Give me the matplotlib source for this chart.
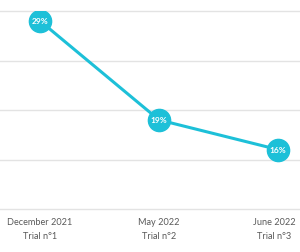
import matplotlib
matplotlib.use("Agg")
import matplotlib.pyplot as plt

categories = ["December 2021\nTrial n°1", "May 2022\nTrial n°2", "June 2022\nTrial n°3"]
values = [29, 19, 16]
labels = ["29%", "19%", "16%"]
grid_levels = [10, 15, 20, 25, 30]

color = "#1DC0D8"
fig = plt.figure(figsize=(3.0, 2.53), dpi=100)
ax = fig.add_axes([0, 1 - 210/253, 1, (210 - 12)/253])
x = list(range(len(values)))
ax.plot(x, values, color=color, lw=2.2, marker="o", ms=16, mfc=color, mec=color, zorder=3, solid_capstyle="round")
for xi, v, t in zip(x, values, labels):
    ax.text(xi, v, t, ha="center", va="center", color="white", fontsize=6, fontweight="bold", family="Lato", zorder=4)
ax.set_ylim(10, 30)
ax.set_xlim(-40/119, 2 + 22/119)
for g in grid_levels:
    ax.axhline(g, color="#e3e3e3", lw=1, zorder=1, clip_on=False)
for s in ax.spines.values():
    s.set_visible(False)
ax.set_yticks([])
ax.set_xticks(x)
ax.set_xticklabels([])
ax.tick_params(axis="x", length=0)
offsets = [0, 0, -3]
for xi, c, off in zip(x, categories, offsets):
    ax.annotate(c, xy=(xi, 0), xycoords=ax.get_xaxis_transform(), xytext=(off, -6),
                textcoords="offset points", ha="center", va="top",
                fontsize=6.6, color="#595959", family="Lato", linespacing=1.6, multialignment="center")
fig.savefig("out.png", dpi=100, facecolor="white")
